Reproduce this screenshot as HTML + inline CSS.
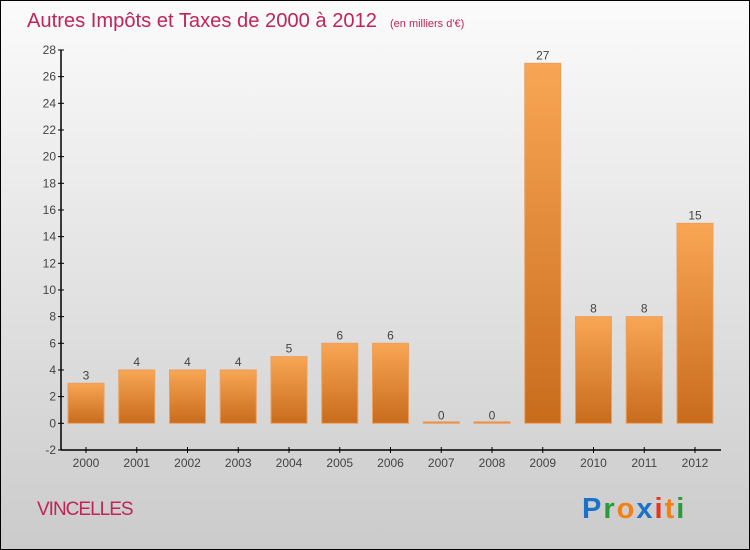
<!DOCTYPE html>
<html><head><meta charset="utf-8"><style>
body{margin:0;width:750px;height:550px;overflow:hidden;font-family:"Liberation Sans",sans-serif}
#wrap{position:absolute;left:0;top:0;width:748px;height:548px;border:1px solid #000;background:linear-gradient(#fbfbfb,#cbcbcb)}
</style></head><body>
<div id="wrap">
<svg width="750" height="550" id="chart" style="position:absolute;left:-1px;top:-1px">
<defs><linearGradient id="bg" x1="0" y1="0" x2="0" y2="1"><stop offset="0" stop-color="#f8a655"/><stop offset="1" stop-color="#c86c1c"/></linearGradient></defs>
<text x="27" y="27" font-size="20" fill="#c0245a" textLength="350" lengthAdjust="spacingAndGlyphs">Autres Impôts et Taxes de 2000 à 2012</text>
<text x="390" y="27" font-size="11" fill="#c0245a">(en milliers d'€)</text>
<text x="37" y="515" font-size="19" fill="#c0245a" letter-spacing="-1">VINCELLES</text>
<text x="582" y="518" font-size="29" font-weight="bold" letter-spacing="2"><tspan fill="#1a73c9">P</tspan><tspan fill="#2a9a3a">r</tspan><tspan fill="#f57f12">o</tspan><tspan fill="#1a73c9">x</tspan><tspan fill="#e8321e">i</tspan><tspan fill="#f57f12">t</tspan><tspan fill="#2a9a3a">i</tspan></text>
<g id="g"></g>
</svg></div>
<script>
const years=["2000","2001","2002","2003","2004","2005","2006","2007","2008","2009","2010","2011","2012"];
const values=[3,4,4,4,5,6,6,0,0,27,8,8,15];
const yTicks=[-2,0,2,4,6,8,10,12,14,16,18,20,22,24,26,28];
const g=document.getElementById('g');const NS='http://www.w3.org/2000/svg';
const y=v=>423.3-(v)*13.333;const x=i=>86+i*50.75;
function mk(t,a){const e=document.createElementNS(NS,t);for(const k in a)e.setAttribute(k,a[k]);g.appendChild(e);return e;}
let e=mk('line',{x1:61,y1:50,x2:61,y2:450,stroke:'#000','stroke-width':1.5});

e=mk('line',{x1:61,y1:450,x2:721,y2:450,stroke:'#000','stroke-width':1.5});

yTicks.forEach(v=>{mk('line',{x1:58,x2:64,y1:y(v),y2:y(v),stroke:'#000'});
const t=mk('text',{x:56,y:y(v)+4,'text-anchor':'end','font-size':12,fill:'#444'});t.textContent=v;
});
years.forEach((yr,i)=>{const cx=x(i),v=values[i];
mk('line',{x1:cx,x2:cx,y1:447,y2:453,stroke:'#000'});
const t=mk('text',{x:cx,y:467,'text-anchor':'middle','font-size':12,fill:'#444'});t.textContent=yr;

const top=y(v),h=Math.max(y(0)-top,1.5);
const b=mk('rect',{x:cx-18,y:Math.min(top,y(0)-1.5),width:36,height:h,fill:'url(#bg)',stroke:'#e9a060','stroke-width':1});

const l=mk('text',{x:cx,y:top-4,'text-anchor':'middle','font-size':12,fill:'#444'});l.textContent=v;
});
</script></body></html>
